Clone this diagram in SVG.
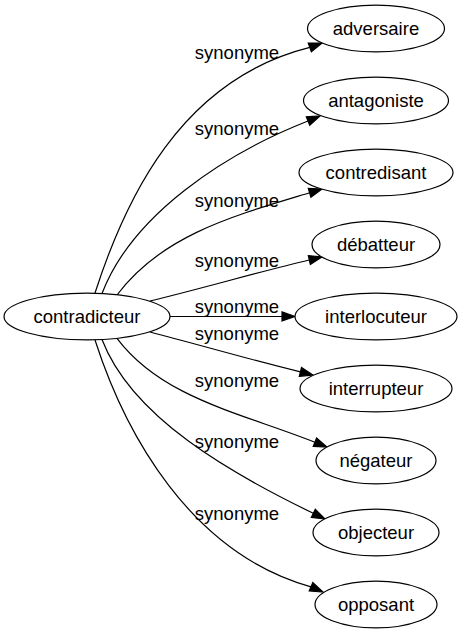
<svg xmlns="http://www.w3.org/2000/svg" width="462" height="635" viewBox="0 0 462 635">
<style>
.n ellipse{fill:#fff;stroke:#000;stroke-width:1.2}
text{font-family:"Liberation Sans",Arial,sans-serif;font-size:18.5px;fill:#000;text-anchor:middle}
.e path{fill:none;stroke:#000;stroke-width:1.2}
.e polygon{fill:#000;stroke:#000;stroke-width:1.2}
</style>
<rect width="462" height="635" fill="#fff"/>
<g id="edges" class="e">
<path d="M95,293 C125,200 180,80 309.8,47.4"/>
<polygon points="311.35,51.68 322,43 308.25,43.12"/>
<text x="237" y="59">synonyme</text>
<path d="M102,293.5 C132,215 224,154 308,121"/>
<polygon points="309.7,125.2 320,116 306.3,116.8"/>
<text x="237" y="135">synonyme</text>
<path d="M117,295 C162,235 233,216 309.6,192.8"/>
<polygon points="310.9,197.2 322,189 308.3,188.4"/>
<text x="237" y="207">synonyme</text>
<path d="M150,301 C200,289 260.6,271.4 309.3,260"/>
<polygon points="310.3,264.4 322,257 308.3,255.6"/>
<text x="237" y="267">synonyme</text>
<path d="M170,316.5 L282,316.5"/>
<polygon points="282,321.05 295,316.5 282,311.95"/>
<text x="237" y="313">synonyme</text>
<path d="M150,332 C200,345 251.9,360.1 300.4,371.9"/>
<polygon points="299.3,376.3 313,375 301.5,367.5"/>
<text x="237" y="340">synonyme</text>
<path d="M117,338.3 C162,398 240.5,412.8 314.9,442.2"/>
<polygon points="313.2,446.4 327,447 316.6,438"/>
<text x="237" y="387">synonyme</text>
<path d="M102,339.5 C132,418 232,474 313.3,513.3"/>
<polygon points="311.3,517.4 325,519 315.3,509.2"/>
<text x="237" y="448">synonyme</text>
<path d="M95,340 C125,433 190,553 311,586.8"/>
<polygon points="309.2,591 323,592 312.8,582.6"/>
<text x="237" y="520">synonyme</text>
</g>
<g id="contradicteur" class="n"><ellipse cx="87" cy="316.5" rx="83" ry="23.4"/><text x="87" y="322.5">contradicteur</text></g>
<g id="adversaire" class="n"><ellipse cx="376" cy="28.5" rx="68.5" ry="23.4"/><text x="376" y="34.5">adversaire</text></g>
<g id="antagoniste" class="n"><ellipse cx="376" cy="100.5" rx="72.5" ry="23.4"/><text x="376" y="106.5">antagoniste</text></g>
<g id="contredisant" class="n"><ellipse cx="376" cy="172.5" rx="77" ry="23.4"/><text x="376" y="178.5">contredisant</text></g>
<g id="debatteur" class="n"><ellipse cx="376" cy="244.5" rx="64" ry="23.4"/><text x="376" y="250.5">débatteur</text></g>
<g id="interlocuteur" class="n"><ellipse cx="376" cy="316.5" rx="81" ry="23.4"/><text x="376" y="322.5">interlocuteur</text></g>
<g id="interrupteur" class="n"><ellipse cx="376" cy="388.5" rx="76" ry="23.4"/><text x="376" y="394.5">interrupteur</text></g>
<g id="negateur" class="n"><ellipse cx="376" cy="460.5" rx="60" ry="23.4"/><text x="376" y="466.5">négateur</text></g>
<g id="objecteur" class="n"><ellipse cx="376" cy="532.5" rx="63" ry="23.4"/><text x="376" y="538.5">objecteur</text></g>
<g id="opposant" class="n"><ellipse cx="376" cy="604.5" rx="61" ry="23.4"/><text x="376" y="610.5">opposant</text></g>
</svg>
